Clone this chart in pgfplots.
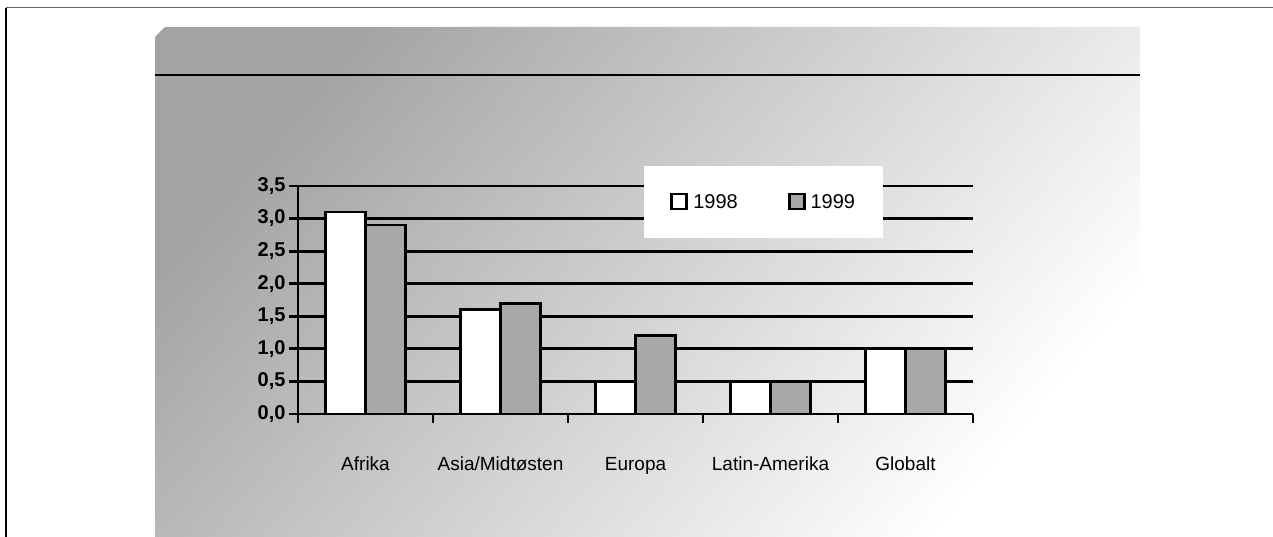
\documentclass[border=0pt]{standalone}
\usepackage{fontspec}
\setmainfont{Liberation Sans}
\usepackage{pgfplots}
\pgfplotsset{compat=1.18}
\definecolor{bargray}{gray}{0.66}
\begin{document}
\begin{tikzpicture}[x=1pt,y=1pt]
\path[use as bounding box] (0,0) rectangle (1273,537);
\fill[white] (0,0) rectangle (1273,537);
% scanned background
\shade[top color=black!36, middle color=black!15, bottom color=white, shading angle=50]
  (155,0) -- (155,500) -- (165,510) -- (1140,510) -- (1140,0) -- cycle;
% frame
\draw[line width=2pt] (6,0) -- (6,529);
\draw[line width=1pt, black!60] (6,529) -- (1273,529);
\draw[line width=2.6pt] (155,462) -- (1140,462);
\begin{axis}[
  at={(298pt,123pt)}, anchor=south west,
  scale only axis, width=675pt, height=228pt,
  xmin=-0.5, xmax=4.5, ymin=0, ymax=3.5,
  clip=false,
  axis lines=left,
  axis line style={-, line width=2.8pt},
  ybar=0pt, bar width=40pt,
  xtick={0,1,2,3,4},
  xticklabels={Afrika, Asia/Midtøsten, Europa, Latin-Amerika, Globalt},
  major x tick style={draw=none},
  minor xtick={-0.5,0.5,1.5,2.5,3.5,4.5},
  minor tick length=9pt,
  tick align=outside,
  minor x tick style={line width=2.8pt, black},
  xticklabel style={font=\fontsize{19}{19}\selectfont, text height=14pt, text depth=4pt, yshift=-30pt},
  ytick={0,0.5,...,3.5},
  major tick length=9pt,
  major y tick style={line width=2.8pt, black},
  yticklabel style={font=\fontsize{20}{20}\selectfont\bfseries, /pgf/number format/.cd, fixed, fixed zerofill, precision=1, use comma, assume math mode=true},
  ymajorgrids, grid style={black, line width=2.8pt},
  legend columns=2,
  legend style={at={(0.69,0.93)}, anchor=center, fill=white, draw=none,
    font=\fontsize{20}{20}\selectfont, inner xsep=26pt, inner ysep=26pt,
    /tikz/every odd column/.append style={column sep=3pt},
    /tikz/every even column/.append style={column sep=48pt}},
  legend image code/.code={\draw[#1, line width=2.8pt] (0pt,-7pt) rectangle (15pt,8pt);},
]
\addplot[draw=black, line width=2.8pt, fill=white] coordinates {(0,3.1) (1,1.6) (2,0.5) (3,0.5) (4,1.0)};
\addplot[draw=black, line width=2.8pt, fill=bargray] coordinates {(0,2.9) (1,1.7) (2,1.2) (3,0.5) (4,1.0)};
\legend{1998,1999}
\end{axis}
\end{tikzpicture}
\end{document}
